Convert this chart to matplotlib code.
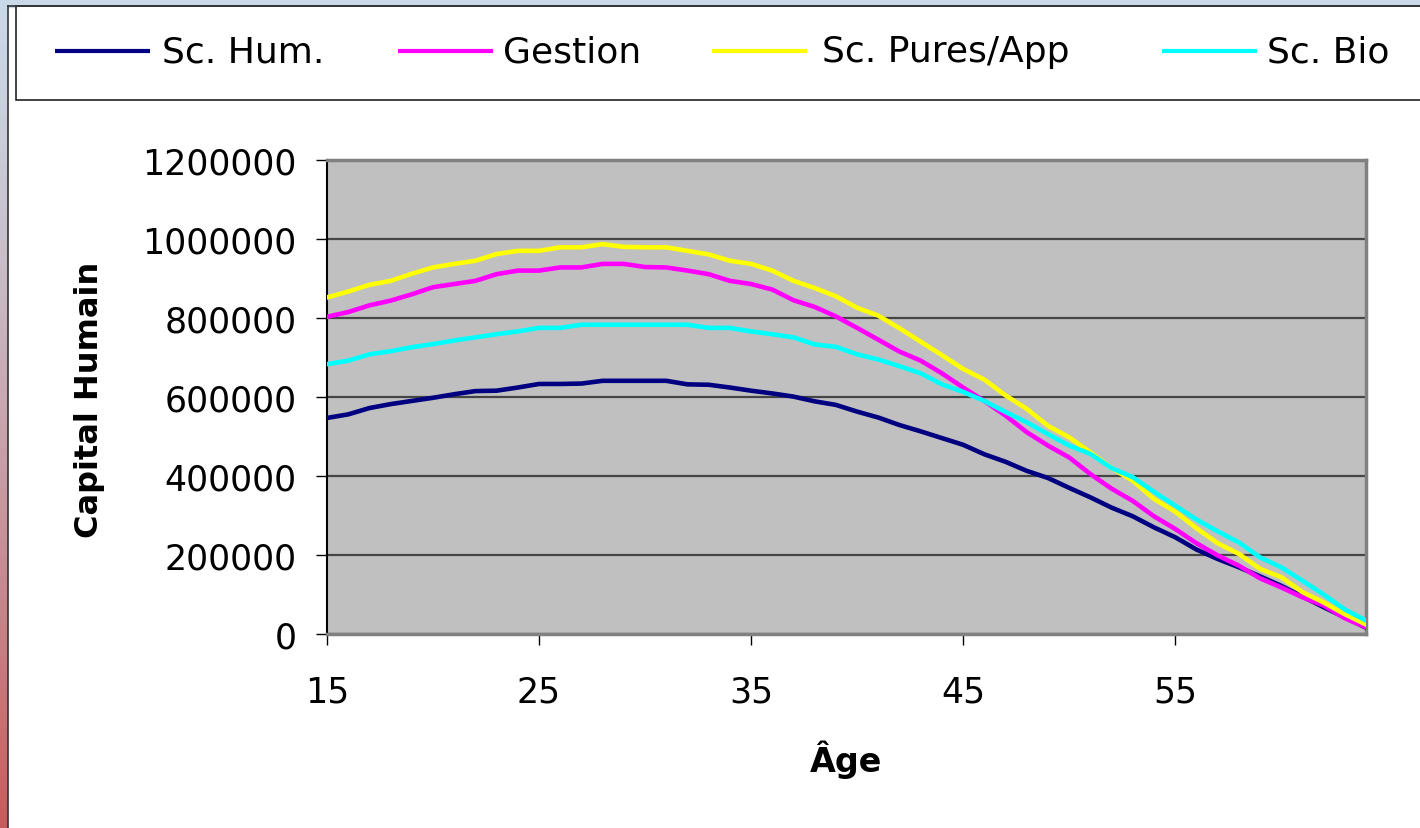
import numpy as np
import matplotlib.pyplot as plt
from matplotlib.patches import Rectangle
from matplotlib.ticker import FuncFormatter

# ----------------------------
# Data
# ----------------------------
ages = list(range(15, 65))

sc_hum = [547000, 556000, 572000, 582000, 590000, 598000, 607000, 615000, 616000, 624000,
          633000, 633000, 634000, 641000, 641000, 641000, 641000, 632000, 631000, 624000,
          616000, 609000, 601000, 589000, 580000, 563000, 548000, 529000, 513000, 496000,
          479000, 455000, 436000, 413000, 395000, 370000, 346000, 320000, 298000, 270000,
          245000, 214000, 190000, 169000, 146000, 122000, 95000, 68000, 42000, 16000]

gestion = [803000, 815000, 832000, 844000, 860000, 878000, 886000, 894000, 911000, 920000,
           920000, 928000, 928000, 937000, 937000, 929000, 928000, 920000, 911000, 894000,
           886000, 872000, 845000, 828000, 804000, 775000, 745000, 715000, 692000, 660000,
           624000, 590000, 553000, 511000, 477000, 447000, 405000, 368000, 337000, 298000,
           266000, 230000, 199000, 173000, 141000, 118000, 93000, 72000, 40000, 17000]

sc_pures = [852000, 867000, 884000, 894000, 912000, 928000, 937000, 945000, 962000, 970000,
            970000, 979000, 979000, 987000, 980000, 979000, 979000, 970000, 961000, 945000,
            937000, 920000, 894000, 876000, 855000, 826000, 806000, 774000, 740000, 706000,
            671000, 644000, 604000, 570000, 527000, 498000, 460000, 420000, 388000, 342000,
            310000, 268000, 230000, 203000, 165000, 144000, 106000, 80000, 50000, 24000]

sc_bio = [683000, 692000, 708000, 716000, 726000, 734000, 743000, 751000, 759000, 766000,
          775000, 775000, 783000, 783000, 783000, 783000, 783000, 783000, 775000, 775000,
          766000, 759000, 751000, 733000, 727000, 708000, 695000, 678000, 660000, 632000,
          613000, 590000, 562000, 536000, 506000, 477000, 456000, 420000, 397000, 360000,
          325000, 290000, 260000, 232000, 194000, 169000, 135000, 100000, 62000, 34000]

series_names = ["Sc. Hum.", "Gestion", "Sc. Pures/App", "Sc. Bio"]
series_values = [sc_hum, gestion, sc_pures, sc_bio]
colors = ["#000080", "#FF00FF", "#FFFF00", "#00FFFF"]

x_ticks = [15, 25, 35, 45, 55]
y_ticks = [0, 200000, 400000, 600000, 800000, 1000000, 1200000]

# ----------------------------
# Figure and frame
# ----------------------------
plt.rcParams['font.family'] = ['DejaVu Sans']

W, H = 1420, 829
fig = plt.figure(figsize=(W / 100, H / 100), dpi=100)

bg = fig.add_axes([0, 0, 1, 1], zorder=0)
top_c = np.array([0.79, 0.85, 0.91])
bot_c = np.array([0.78, 0.36, 0.36])
t = np.linspace(0, 1, 256)[:, None, None] ** 1.3
bg.imshow(top_c + (bot_c - top_c) * t, extent=(0, 8, H, 0), aspect='auto')
bg.add_patch(Rectangle((0, 0), W, 8, color=top_c))
bg.plot([8, 8], [7, H], color='#333333', lw=1.2)
bg.plot([8, W], [7, 7], color='#333333', lw=1.2)

# legend box, Excel style, spanning the top
bg.add_patch(Rectangle((16, 7), W, 94, facecolor='white', edgecolor='#222222', lw=1.2))
handle_x = [55, 398, 712, 1162]
text_x = [162, 503, 822, 1267]
for name, c, hx, tx in zip(series_names, colors, handle_x, text_x):
    bg.plot([hx, hx + 95], [52, 52], color=c, lw=3, solid_capstyle='butt')
    bg.text(tx, 52, name, fontsize=26, va='center', ha='left', color='black')

bg.set_xlim(0, W)
bg.set_ylim(H, 0)
bg.axis('off')

# ----------------------------
# Plot area
# ----------------------------
ax = fig.add_axes([327 / W, 1 - 635 / H, (1366 - 327) / W, (635 - 161) / H], zorder=1)
ax.set_facecolor('#C0C0C0')

for vals, name, c in zip(series_values, series_names, colors):
    ax.plot(ages, vals, color=c, lw=3.3, label=name, zorder=3)

ax.set_xlim(15, 64)
ax.set_ylim(0, 1200000)
ax.set_xticks(x_ticks)
ax.set_yticks(y_ticks)
ax.yaxis.set_major_formatter(FuncFormatter(lambda v, p: f"{int(v)}"))

ax.yaxis.grid(True, color='#454545', lw=1.6)
ax.set_axisbelow(True)

ax.tick_params(axis='both', direction='out', length=8, width=1, color='black', labelsize=25)
ax.tick_params(axis='y', pad=14)
ax.tick_params(axis='x', pad=21)

ax.spines['left'].set_color('black')
ax.spines['left'].set_linewidth(1.5)
for s in ['top', 'right', 'bottom']:
    ax.spines[s].set_color('#808080')
    ax.spines[s].set_linewidth(2.5)

fig.text(90 / W, 1 - 400 / H, "Capital Humain", rotation=90, ha='center', va='center',
         fontsize=23, fontweight='bold')
fig.text(846 / W, 1 - 760 / H, "Âge", ha='center', va='center',
         fontsize=24, fontweight='bold')

fig.savefig("out.png", dpi=100)
